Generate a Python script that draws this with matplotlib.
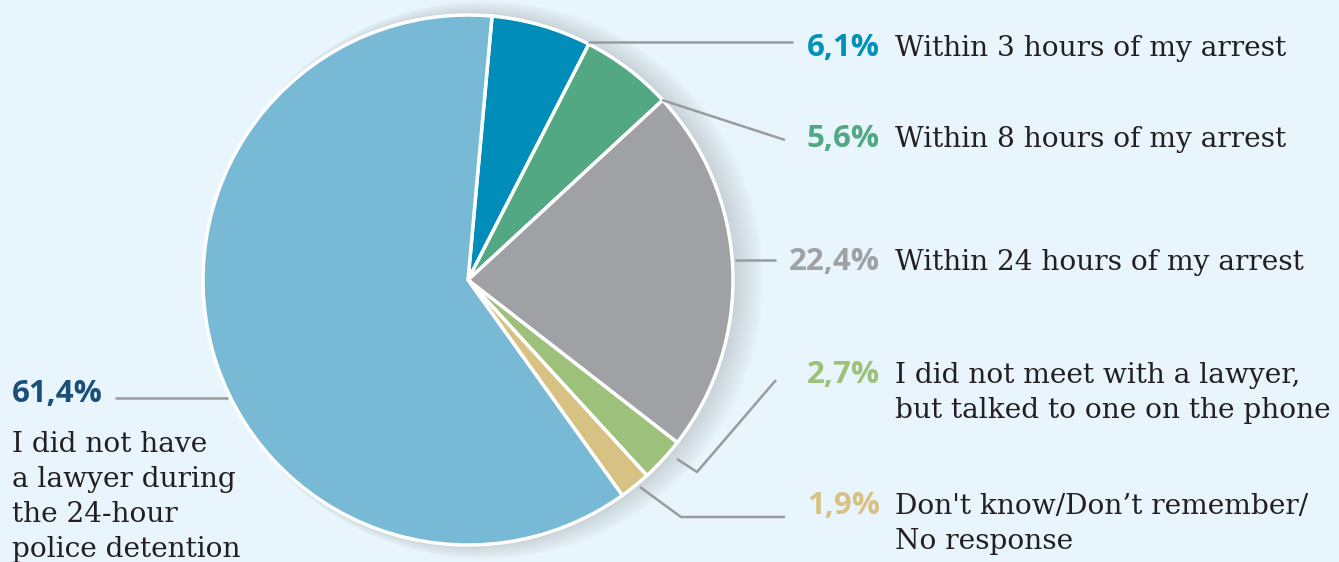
import numpy as np
import matplotlib
matplotlib.use("Agg")
import matplotlib.pyplot as plt
from matplotlib.patches import Circle

# ── Datos ────────────────────────────────────────────────────────────────────
valores = [6.1, 5.6, 22.4, 2.7, 1.9, 61.4]
etiquetas = [
    "Within 3 hours of my arrest",
    "Within 8 hours of my arrest",
    "Within 24 hours of my arrest",
    "I did not meet with a lawyer,\nbut talked to one on the phone",
    "Don't know/Don\u2019t remember/\nNo response",
    "I did not have\na lawyer during\nthe 24-hour\npolice detention",
]
colores = ["#008DB9", "#52A883", "#A0A1A5", "#9DC07A", "#D8C283", "#78BAD6"]
colores_pct = ["#0090B8", "#52A883", "#A0A1A5", "#9DC07A", "#D8C283", "#1A4F7A"]

FONDO = "#E8F5FC"
LINEA = "#9A9B9F"
TEXTO = "#231F20"
W, H = 1339, 562

fig = plt.figure(figsize=(W / 100, H / 100), dpi=100, facecolor=FONDO)
ax = fig.add_axes([0, 0, 1, 1])
ax.set_facecolor(FONDO)

cx, cy, R = 468, H - 280, 265

# sombra con degradado (clara, desplazada a la derecha)
for k in range(16):
    r = R + 14 - k * 0.9
    ax.add_patch(Circle((cx + 16 - k * 0.9, cy), r, color="#A8AEB6",
                        alpha=0.032, lw=0, zorder=1))

ax.pie(valores, colors=colores, startangle=84.8, counterclock=False,
       center=(cx, cy), radius=R, frame=True,
       wedgeprops=dict(edgecolor="white", linewidth=2.5, zorder=2))
ax.set_xlim(0, W); ax.set_ylim(0, H)
ax.set_aspect("equal"); ax.axis("off")

# ── Líneas guía ──────────────────────────────────────────────────────────────
def y(v):
    return H - v

guias = [
    ([588, 793], [42, 42]),
    ([662, 785], [100, 140]),
    ([735, 776], [260, 260]),
    ([677, 697, 776], [459, 472, 380]),
    ([640, 681, 785], [487, 517, 517]),
    ([115, 228], [398, 398]),
]
for xs, ys in guias:
    ax.plot(xs, [y(v) for v in ys], color=LINEA, lw=1.8, zorder=3,
            solid_capstyle="butt")

# ── Textos ───────────────────────────────────────────────────────────────────
PCT_FONT = dict(family="Open Sans", weight="bold", fontsize=22.5)
TXT_FONT = dict(family="DejaVu Serif", fontsize=20.2)


def texto_lineas(x, base, texto, paso):
    for i, linea in enumerate(texto.split("\n")):
        ax.text(x, y(base + i * paso), linea, ha="left", va="baseline",
                color=TEXTO, **TXT_FONT)


base_y = [56, 147, 270, 383, 514]
for v, lab, c, yy in zip(valores[:5], etiquetas[:5], colores_pct[:5], base_y):
    ax.text(880, y(yy), f"{v:.1f}%".replace(".", ","), ha="right",
            va="baseline", color=c, **PCT_FONT)
    texto_lineas(895, yy, lab, 35)

ax.text(12, y(402), f"{valores[5]:.1f}%".replace(".", ","), ha="left",
        va="baseline", color=colores_pct[5], **PCT_FONT)
texto_lineas(12, 452, etiquetas[5], 35)

fig.savefig("out.png", dpi=100, facecolor=FONDO)
